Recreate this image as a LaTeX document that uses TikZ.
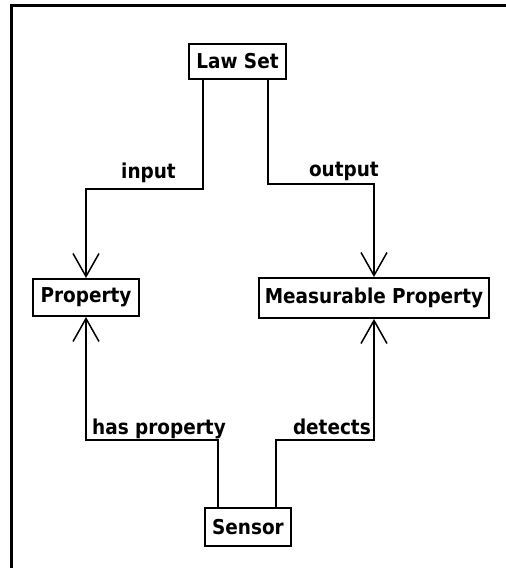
\documentclass[tikz,border=0pt]{standalone}
\usepackage{fontspec}
\setmainfont{DejaVu Sans Condensed}
\usetikzlibrary{arrows.meta}
\begin{document}
\begin{tikzpicture}[x=1pt,y=-1pt,
  concept/.style={draw, line width=2pt, inner sep=0pt, fill=white,
    font=\bfseries\fontsize{20.5}{24}\selectfont},
  conn/.style={line width=2pt},
  lbl/.style={inner sep=0pt, font=\bfseries\fontsize{20.5}{24}\selectfont},
  openarrow/.style={-{Straight Barb[length=23pt,width=26pt,line width=1.5pt]}}
]
\useasboundingbox (0,0) rectangle (506,568);
% page frame
\draw[line width=2.6pt] (11.5,568) -- (11.5,5.5) -- (506,5.5);

% concepts
\node[concept, minimum width=97pt, minimum height=35pt] (law) at (237.5,61.5) {Law Set};
\node[concept, minimum width=106pt, minimum height=37pt] (prop) at (86,297.5) {Property};
\node[concept, minimum width=230pt, minimum height=40pt] (meas) at (374,298) {Measurable Property};
\node[concept, minimum width=86pt, minimum height=38pt] (sensor) at (248,527) {Sensor};

% relations
\draw[conn, openarrow] ([xshift=-34.5pt]law.south) -- ++(0,109) -| (prop.north);
\draw[conn, openarrow] ([xshift=30.5pt]law.south) -- ++(0,104) -| (meas.north);
\draw[conn, openarrow] ([xshift=-30pt]sensor.north) -- ++(0,-67) -| (prop.south);
\draw[conn, openarrow] ([xshift=28pt]sensor.north) -- ++(0,-67) -| (meas.south);

% relation labels
\node[lbl, anchor=base east] (lin) at (176,178) {input};
\node[lbl, anchor=base east] (lout) at (379,176) {output};
\node[lbl, anchor=base west] (lhas) at (92,434) {has property};
\node[lbl, anchor=base east] (ldet) at (371,434) {detects};
\end{tikzpicture}
\end{document}
